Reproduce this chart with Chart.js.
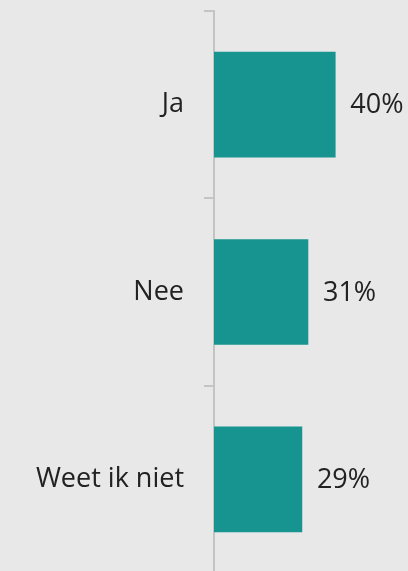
<!DOCTYPE html>
<html>
<head>
<meta charset="utf-8">
<script src="https://cdn.jsdelivr.net/npm/chart.js@4"></script>
<style>
    html, body { margin: 0; padding: 0; background: #e8e8e8; overflow: hidden; }
    /* axis runs past the bottom edge in the original, so the canvas is a bit taller */
    #wrap { width: 408px; height: 573px; }
</style>
</head>
<body>
<div id="wrap"><canvas id="chart"></canvas></div>
<script>
// Data
const categories = ['Ja', 'Nee', 'Weet ik niet'];
const percentages = [40, 31, 29];

const FONT = "'Open Sans', 'Liberation Sans', sans-serif";
const TEXT_COLOR = '#222222';

// Draws the "40%" style labels just right of each bar
const valueLabels = {
    id: 'valueLabels',
    afterDatasetsDraw(chart) {
        const ctx = chart.ctx;
        const meta = chart.getDatasetMeta(0);
        ctx.save();
        ctx.font = '27px ' + FONT;
        ctx.fillStyle = TEXT_COLOR;
        ctx.textAlign = 'left';
        ctx.textBaseline = 'middle';
        meta.data.forEach((bar, i) => {
            ctx.fillText(percentages[i] + '%', bar.x + 15, bar.y + 1);
        });
        ctx.restore();
    }
};

const ctx = document.getElementById('chart').getContext('2d');
new Chart(ctx, {
    type: 'bar',
    data: {
        labels: categories,
        datasets: [{
            data: percentages,
            backgroundColor: '#17948f',
            borderWidth: 0,
            barThickness: 105
        }]
    },
    options: {
        indexAxis: 'y',
        responsive: true,
        maintainAspectRatio: false,
        animation: false,
        layout: { padding: { top: 11, bottom: 0, left: 0, right: 0 } },
        plugins: {
            legend: { display: false },
            tooltip: { enabled: false }
        },
        scales: {
            x: {
                display: false,
                min: 0,
                max: 64
            },
            y: {
                // fixed width, and no extra room for the label halves
                afterFit: (scale) => {
                    scale.width = 214;
                    scale.paddingTop = 0;
                    scale.paddingBottom = 0;
                },
                border: { display: true, color: '#c4c4c4', width: 2 },
                grid: {
                    drawOnChartArea: false,
                    drawTicks: true,
                    tickLength: 10,
                    color: '#c4c4c4',
                    lineWidth: 2,
                    offset: true
                },
                ticks: {
                    color: TEXT_COLOR,
                    font: { family: FONT, size: 27 },
                    padding: 20
                }
            }
        }
    },
    plugins: [valueLabels]
});
</script>
</body>
</html>
